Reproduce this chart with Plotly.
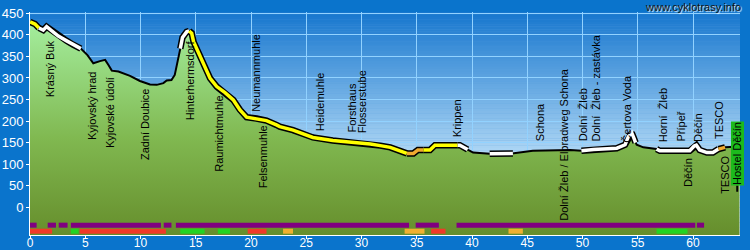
import plotly.graph_objects as go

# ---------------- data ----------------
km = [0.0, 0.45, 0.8, 1.2, 1.5, 1.8, 2.56, 3.32, 3.9, 4.6, 5.2, 5.73, 6.33, 6.8, 7.1, 7.4, 8.0,
      9.05, 9.95, 10.86, 11.47, 12.07, 12.37, 12.8, 13.1, 13.35, 13.6, 13.8, 14.18, 14.4, 14.63,
      14.8, 15.1, 15.4, 15.84, 16.3, 16.9, 17.65, 18.4, 19.0, 19.6, 20.5, 21.4, 22.3, 22.6, 23.8,
      25.6, 27.4, 29.9, 30.8, 31.7, 32.6, 34.1, 34.7, 35.1, 35.6, 36.2, 36.65, 38.7, 38.9, 39.6,
      40.1, 41.3, 41.6, 43.4, 43.7, 44.0, 45.5, 48.9, 49.9, 51.0, 53.1, 53.85, 54.15, 54.45, 54.66,
      54.8, 54.9, 55.5, 56.7, 57.0, 59.7, 60.1, 60.3, 60.6, 61.25, 61.8, 62.3, 62.9, 63.35, 64.2]
elev = [430, 425, 416, 411, 419, 413, 397, 386, 377, 368, 353, 334, 339, 342, 330, 317, 315,
        305, 293, 285, 284, 288, 294, 295, 307, 335, 368, 394, 407, 409, 404,
        384, 367, 353, 326, 299, 280, 266, 249, 226, 209, 206, 201, 191, 187, 179,
        162, 155, 150, 147, 143, 139, 125, 125, 133, 133, 133, 144, 144, 144, 134,
        127, 125, 124, 124, 125, 127, 131, 133, 131, 134, 137, 145, 164, 173, 160,
        150, 145, 139, 135, 131, 131, 142, 144, 133, 127, 127, 135, 139, 140, 141]

# highlighted route sections: (from km, to km, colour)
hl_from = [0.0, 0.8, 13.6, 14.4, 34.1, 35.6, 38.7, 41.6, 49.9, 56.7, 62.3]
hl_to = [0.8, 4.6, 14.4, 34.1, 35.6, 38.7, 39.6, 43.7, 54.8, 62.3, 62.9]
hl_col = ["#ffff00", "#ffffff", "#ffffff", "#ffff00", "#f0aa30", "#ffff00", "#ffffff",
          "#ffffff", "#ffffff", "#ffffff", "#f0aa30"]

# surface bar (purple row)
purple_from = [-0.1, 1.6, 2.6, 3.7, 12.1, 13.2, 34.9, 38.6, 60.35]
purple_to = [0.6, 2.35, 3.4, 11.85, 12.8, 34.3, 37.0, 60.2, 61.0]
# difficulty bar (colour row)
diff_from = [0.0, 3.7, 4.5, 13.6, 17.0, 19.7, 22.9, 33.9, 36.3, 43.3, 56.7]
diff_to = [2.0, 4.4, 12.3, 15.8, 18.1, 21.4, 23.8, 35.7, 37.6, 44.6, 59.5]
diff_col = ["#f03a28", "#22d422", "#f03a28", "#22d422", "#22d422", "#f03a28", "#f0b030",
            "#f0b030", "#f03a28", "#f0b030", "#22d422"]

# points of interest: name, km, elevation of the label's lower end
poi_name = ["Krásný Buk", "Kyjovský hrad", "Kyjovské údolí", "Zadní Doubice", "Hinterhermsdorf",
            "Raumichtmuhle", "Neumannmuhle", "Felsenmuhle", "Heidemuhle", "Forsthaus",
            "Flosserstube", "Krippen", "Schona", "Dolní Žleb / Elbradweg Schona", "Dolní  Žleb",
            "Dolní  Žleb - zastávka", "Čertova Voda", "Horní  Žleb", "Přípeř", "Děčín", "Děčín",
            "TESCO", "TESCO"]
poi_km = [1.8, 5.67, 7.24, 10.4, 14.5, 17.1, 20.45, 21.1, 26.2, 29.05, 30.07, 38.67, 46.15,
          48.3, 50.0, 51.2, 54.0, 57.3, 58.9, 60.4, 59.6, 62.3, 62.9]
poi_bottom = [254, 153, 134, 107, 200, 80, 219, 41, 174, 170, 169, 161, 151, -33, 151, 151,
              147, 149, 150, 149, 45, 157, 29]
end_name = "Hostel Děčín"
end_km = 64.0

X_TICKS = list(range(0, 61, 5))
Y_TICKS = list(range(0, 451, 50))
X_RANGE = [0, 64.25]
Y_RANGE = [-64.3, 453]
ROW_PURPLE = -41.5
ROW_DIFF = -55.5

FONT = "Arial, Liberation Sans, sans-serif"

fig = go.Figure()

# sky gradient as thin background bands (below grid)
def lerp(c1, c2, t):
    return tuple(int(round(a + (b - a) * t)) for a, b in zip(c1, c2))

top_c = (22, 118, 206)
mid_c = (172, 213, 244)
bot_c = (200, 228, 250)
n = 90
y0, y1 = Y_RANGE
for i in range(n):
    ya = y0 + (y1 - y0) * i / n
    yb = y0 + (y1 - y0) * (i + 1) / n
    ym = (ya + yb) / 2
    if ym >= 130:
        c = lerp(mid_c, top_c, (ym - 130) / (y1 - 130))
    else:
        c = lerp(bot_c, mid_c, (ym - y0) / (130 - y0))
    fig.add_shape(type="rect", xref="paper", yref="y", x0=0, x1=1, y0=ya, y1=yb + 0.5,
                  fillcolor="rgb(%d,%d,%d)" % c, line_width=0, layer="below")

# baseline for fill
fig.add_trace(go.Scatter(x=[km[0], km[-1]], y=[Y_RANGE[0], Y_RANGE[0]], mode="lines",
                         line=dict(width=0), hoverinfo="skip", showlegend=False))
# profile with gradient fill
fig.add_trace(go.Scatter(
    x=km, y=elev, mode="lines", fill="tonexty",
    fillgradient=dict(type="vertical", start=Y_RANGE[0], stop=430,
                      colorscale=[[0, "#668e2c"], [0.45, "#80b850"], [1, "#a4ee9e"]]),
    line=dict(color="black", width=2), showlegend=False, hoverinfo="skip"))

# highlighted sections
for a, b, c in zip(hl_from, hl_to, hl_col):
    xs = [k for k in km if a - 1e-9 <= k <= b + 1e-9]
    ys = [e for k, e in zip(km, elev) if a - 1e-9 <= k <= b + 1e-9]
    fig.add_trace(go.Scatter(x=xs, y=ys, mode="lines", line=dict(color="black", width=6.5),
                             showlegend=False, hoverinfo="skip"))
for a, b, c in zip(hl_from, hl_to, hl_col):
    xs = [k for k in km if a - 1e-9 <= k <= b + 1e-9]
    ys = [e for k, e in zip(km, elev) if a - 1e-9 <= k <= b + 1e-9]
    fig.add_trace(go.Scatter(x=xs, y=ys, mode="lines", line=dict(color=c, width=3.5),
                             showlegend=False, hoverinfo="skip"))

# bars
px, py = [], []
for a, b in zip(purple_from, purple_to):
    px += [a, b, None]
    py += [ROW_PURPLE, ROW_PURPLE, None]
fig.add_trace(go.Scatter(x=px, y=py, mode="lines", line=dict(color="#800080", width=5),
                         showlegend=False, hoverinfo="skip", cliponaxis=False))
for a, b, c in zip(diff_from, diff_to, diff_col):
    fig.add_trace(go.Scatter(x=[a, b], y=[ROW_DIFF, ROW_DIFF], mode="lines",
                             line=dict(color=c, width=5), showlegend=False, hoverinfo="skip"))

# POI labels
for name, k, b in zip(poi_name, poi_km, poi_bottom):
    fig.add_annotation(x=k, y=b, xref="x", yref="y", text=name, textangle=-90,
                       showarrow=False, xanchor="center", yanchor="bottom",
                       font=dict(family=FONT, size=11, color="black"), borderpad=0)

fig.add_annotation(x=end_km, y=36, xref="x", yref="y", text=end_name, textangle=-90,
                   showarrow=True, arrowhead=0, arrowwidth=2, arrowcolor="black",
                   ax=0, ay=-38, standoff=0, bgcolor="#1cba1c", borderpad=0,
                   font=dict(family=FONT, size=11, color="black"))

fig.add_annotation(x=1.004, y=1.024, xref="paper", yref="paper", text="www.cyklotrasy.info",
                   showarrow=False, xanchor="right", yanchor="middle",
                   font=dict(family=FONT, size=11, color="#111111",
                             shadow="1px 1px 1px #ffffff"))

fig.update_layout(
    width=750, height=250,
    margin=dict(l=30, r=10, t=12, b=15, autoexpand=False),
    paper_bgcolor="#0a74cc", plot_bgcolor="#5aa0dd",
    showlegend=False,
    xaxis=dict(range=X_RANGE, tickvals=X_TICKS, showgrid=True, gridcolor="#92d2ff",
               gridwidth=1, zeroline=False, showline=True, linecolor="white", linewidth=1,
               ticks="outside", ticklen=3, tickcolor="white", automargin=False,
               ticklabelstandoff=-6,
               tickfont=dict(family=FONT, size=12, color="white")),
    yaxis=dict(range=Y_RANGE, tickvals=Y_TICKS, showgrid=True, gridcolor="#92d2ff",
               gridwidth=1, zeroline=False, showline=True, linecolor="white", linewidth=1,
               ticks="outside", ticklen=3, tickcolor="white", automargin=False,
               tickfont=dict(family=FONT, size=13, color="white")),
)

fig.write_html("out.html")
